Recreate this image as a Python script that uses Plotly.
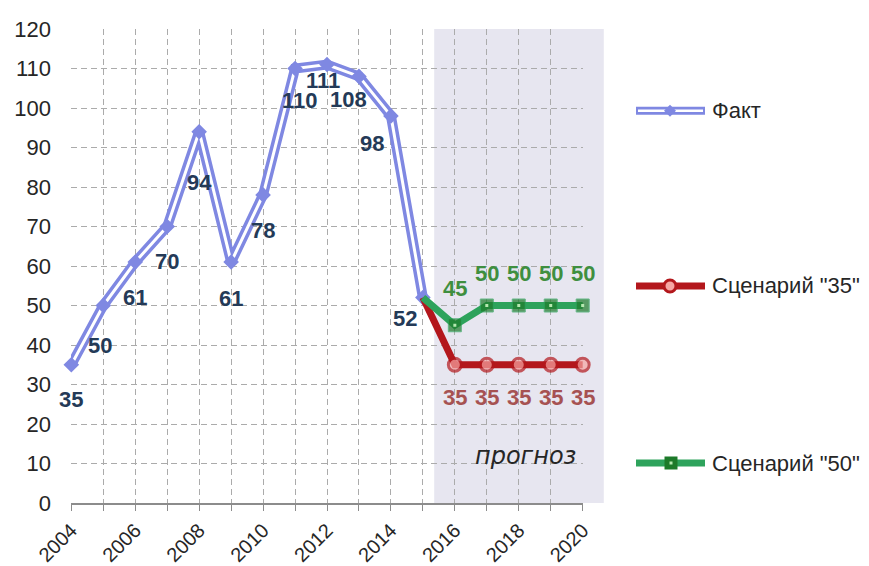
import plotly.graph_objects as go

# ---------------- data ----------------
years_fact = [2004, 2005, 2006, 2007, 2008, 2009, 2010, 2011, 2012, 2013, 2014, 2015]
fact = [35, 50, 61, 70, 94, 61, 78, 110, 111, 108, 98, 52]
years_fc = [2015, 2016, 2017, 2018, 2019, 2020]
scen35 = [52, 35, 35, 35, 35, 35]
scen50 = [52, 45, 50, 50, 50, 50]
series_names = ["Факт", 'Сценарий "35"', 'Сценарий "50"']
forecast_label = "прогноз"
forecast_start, forecast_end = 2015.35, 2020.65

# ---------------- styles ----------------
FONT = "Liberation Sans, Arial, sans-serif"
BLUE = "#7f88e2"
RED = "#b3171c"
RED_FILL = "#f6a5a3"
GREEN = "#2ea35c"
GREEN_DARK = "#1d7a2a"
GREEN_DOT = "#b6e8b0"
FACT_LBL = "#243a57"
RED_LBL = "#a65252"
GREEN_LBL = "#3f8f3f"
TXT = "#262626"
GRID = "#ababab"
AXIS = "#8c8c8c"

OFF = 8                      # page body margin
W, H = 869 - OFF, 566 - OFF
L, T = 71 - OFF, 29 - OFF
PW, PH = 512, 474
R, B = W - L - PW, H - T - PH

def px_x(px):
    return (px - OFF - L) / PW

def px_y(py):
    return (T + OFF + PH - py) / PH

fig = go.Figure()

# Факт: double line (outer blue + inner white) + markers
fig.add_trace(go.Scatter(x=years_fact, y=fact, mode="lines",
                         line=dict(color=BLUE, width=10), cliponaxis=False,
                         hoverinfo="skip", showlegend=False))
fig.add_trace(go.Scatter(x=years_fact, y=fact, mode="lines",
                         line=dict(color="white", width=3), cliponaxis=False,
                         hoverinfo="skip", showlegend=False))
fig.add_trace(go.Scatter(x=years_fact, y=fact, mode="markers", name=series_names[0],
                         marker=dict(symbol="diamond", size=12, color=BLUE),
                         cliponaxis=False, showlegend=False))

# Scenario 35
sizes = [0] + [13] * (len(years_fc) - 1)
fig.add_trace(go.Scatter(x=years_fc, y=scen35, mode="lines+markers", name=series_names[1],
                         line=dict(color=RED, width=7),
                         marker=dict(symbol="circle", size=sizes, color=RED_FILL,
                                     line=dict(color=RED, width=3)),
                         cliponaxis=False, showlegend=False))
# Scenario 50
fig.add_trace(go.Scatter(x=years_fc, y=scen50, mode="lines+markers", name=series_names[2],
                         line=dict(color=GREEN, width=7),
                         marker=dict(symbol="square", size=sizes, color=GREEN_DARK),
                         cliponaxis=False, showlegend=False))
fig.add_trace(go.Scatter(x=years_fc[1:], y=scen50[1:], mode="markers",
                         marker=dict(symbol="square", size=3, color=GREEN_DOT),
                         cliponaxis=False, hoverinfo="skip", showlegend=False))

annotations = []
# Факт labels (offsets in px: dx, dy-up)
fact_off = [(0, -35), (-3, -40), (0, -35), (0, -35), (0, -51), (0, -36), (0, -36),
            (5, -32), (-4, -16), (-10, -23), (-19, -28), (-18, -21)]
for xv, yv, (dx, dy) in zip(years_fact, fact, fact_off):
    annotations.append(dict(x=xv, y=yv, text=str(yv), showarrow=False, xshift=dx, yshift=dy,
                            font=dict(family=FONT, size=22, color=FACT_LBL, weight="bold")))
for i, (xv, yv) in enumerate(zip(years_fc[1:], scen50[1:])):
    annotations.append(dict(x=xv, y=yv, text=str(yv), showarrow=False,
                            yshift=37 if i == 0 else 32,
                            font=dict(family=FONT, size=22, color=GREEN_LBL, weight="bold")))
for xv, yv in zip(years_fc[1:], scen35[1:]):
    annotations.append(dict(x=xv, y=yv, text=str(yv), showarrow=False, yshift=-33,
                            font=dict(family=FONT, size=22, color=RED_LBL, weight="bold")))
# прогноз
annotations.append(dict(x=2018.2, y=12, text=forecast_label, showarrow=False,
                        font=dict(family="DejaVu Sans, sans-serif", size=24, color=TXT,
                                  style="italic")))

shapes = [
    dict(type="rect", xref="paper", yref="paper",
         x0=(forecast_start - 2004) / 16, x1=(forecast_end - 2004) / 16, y0=0, y1=1,
         fillcolor="#e7e6f0", line=dict(width=0), layer="below"),
]

# ---- manual legend ----
leg_y = [110.7, 286, 463]
lx0, lx1, lmid, ltext = 636, 705, 670, 710
# Факт
shapes.append(dict(type="line", xref="paper", yref="paper", x0=px_x(lx0), x1=px_x(lx1),
                   y0=px_y(leg_y[0]), y1=px_y(leg_y[0]), line=dict(color=BLUE, width=8)))
shapes.append(dict(type="line", xref="paper", yref="paper", x0=px_x(lx0 + 2), x1=px_x(lx1 - 2),
                   y0=px_y(leg_y[0]), y1=px_y(leg_y[0]), line=dict(color="white", width=2.5)))
shapes.append(dict(type="path", xref="paper", yref="paper", xsizemode="pixel", ysizemode="pixel",
                   xanchor=px_x(lmid), yanchor=px_y(leg_y[0]),
                   path="M0,6L6,0L0,-6L-6,0Z", fillcolor=BLUE, line=dict(width=0)))
# Сценарий 35
shapes.append(dict(type="line", xref="paper", yref="paper", x0=px_x(lx0), x1=px_x(lx1),
                   y0=px_y(leg_y[1]), y1=px_y(leg_y[1]), line=dict(color=RED, width=7)))
shapes.append(dict(type="circle", xref="paper", yref="paper", xsizemode="pixel", ysizemode="pixel",
                   xanchor=px_x(lmid), yanchor=px_y(leg_y[1]), x0=-6, x1=6, y0=-6, y1=6,
                   fillcolor=RED_FILL, line=dict(color=RED, width=3)))
# Сценарий 50
shapes.append(dict(type="line", xref="paper", yref="paper", x0=px_x(lx0), x1=px_x(lx1),
                   y0=px_y(leg_y[2]), y1=px_y(leg_y[2]), line=dict(color=GREEN, width=7)))
shapes.append(dict(type="rect", xref="paper", yref="paper", xsizemode="pixel", ysizemode="pixel",
                   xanchor=px_x(lmid + 1), yanchor=px_y(leg_y[2]), x0=-6.5, x1=6.5, y0=-6.5, y1=6.5,
                   fillcolor=GREEN_DARK, line=dict(width=0)))
shapes.append(dict(type="rect", xref="paper", yref="paper", xsizemode="pixel", ysizemode="pixel",
                   xanchor=px_x(lmid + 1), yanchor=px_y(leg_y[2]), x0=-1.5, x1=1.5, y0=-1.5, y1=1.5,
                   fillcolor=GREEN_DOT, line=dict(width=0)))
for name, yy in zip(series_names, leg_y):
    annotations.append(dict(xref="paper", yref="paper", x=px_x(ltext), y=px_y(yy),
                            xanchor="left", yanchor="middle", text=name, showarrow=False,
                            font=dict(family=FONT, size=22, color=TXT)))

fig.update_layout(
    width=W, height=H,
    margin=dict(l=L, r=R, t=T, b=B, autoexpand=False),
    paper_bgcolor="white", plot_bgcolor="rgba(0,0,0,0)",
    font=dict(family=FONT, color=TXT),
    showlegend=False,
    shapes=shapes, annotations=annotations,
    xaxis=dict(range=[2003.99, 2020.01], tickmode="linear", tick0=2004, dtick=2,
               tickangle=-45, tickfont=dict(size=20, color=TXT),
               showgrid=True, gridcolor=GRID, griddash="6px,4px", gridwidth=1,
               minor=dict(dtick=1, showgrid=True, gridcolor=GRID, griddash="6px,4px",
                          ticks="outside", ticklen=6, tickcolor=AXIS),
               showline=True, linecolor=AXIS, linewidth=1.5,
               ticks="outside", ticklen=6, tickcolor=AXIS,
               zeroline=False, fixedrange=True),
    yaxis=dict(range=[0, 120], tickmode="linear", tick0=0, dtick=10,
               tickfont=dict(size=22, color=TXT), ticklabelstandoff=19,
               showgrid=True, gridcolor=GRID, griddash="6px,4px", gridwidth=1,
               zeroline=False, showline=False, ticks="", fixedrange=True),
)

fig.write_html("out.html")
